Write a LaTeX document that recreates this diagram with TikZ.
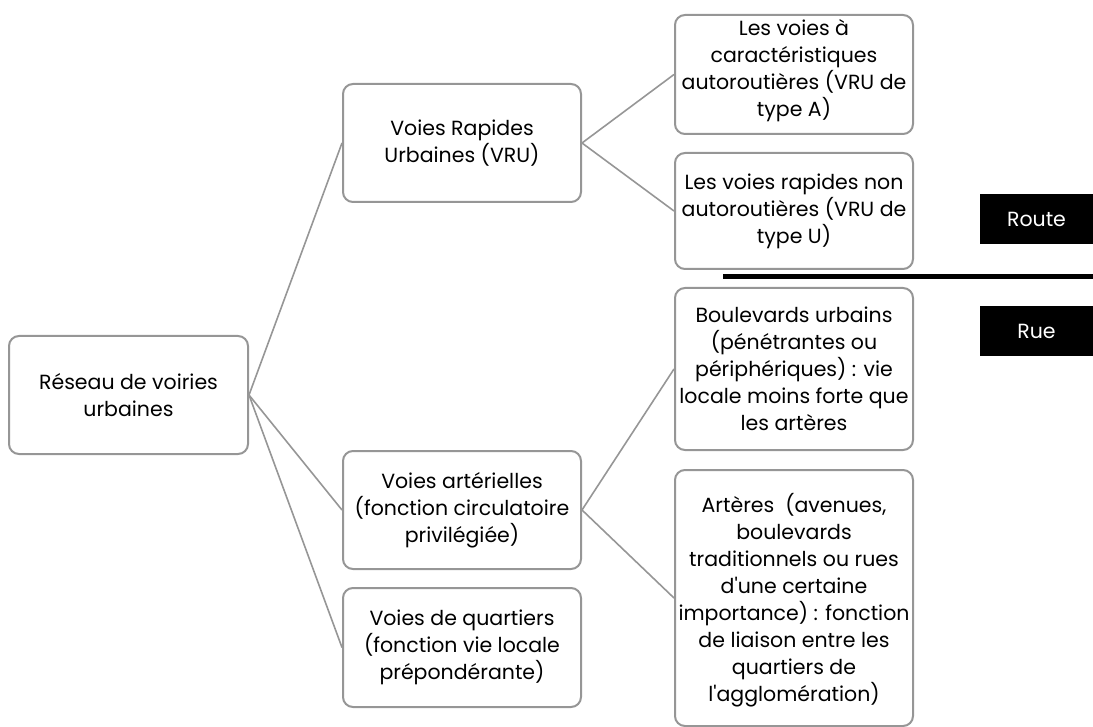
\documentclass[tikz,border=0pt]{standalone}
\usepackage{fontspec}
\setmainfont{Poppins}[Ligatures=TeXOff]
\definecolor{boxgray}{RGB}{150,150,150}
\definecolor{linegray}{RGB}{150,150,150}
\tikzset{
  box/.style={draw=boxgray, line width=2pt, rounded corners=10pt, rectangle, inner sep=0pt, fill=white},
  txt/.style={align=center, inner sep=0pt, font=\fontsize{20.5}{27}\selectfont, text=black},
  conn/.style={draw=linegray, line width=1.6pt},
  tag/.style={fill=black, text=white, inner sep=0pt, font=\fontsize{20.5}{27}\selectfont},
}
\begin{document}
\begin{tikzpicture}[x=1pt,y=-1pt]
\useasboundingbox (0,0) rectangle (1093,727);
% boxes
\node[box, minimum width=239pt, minimum height=118pt] (root) at (128.5,395) {};
\node[box, minimum width=238pt, minimum height=118pt] (vru) at (462,143) {};
\node[box, minimum width=238pt, minimum height=118pt] (art) at (462,510) {};
\node[box, minimum width=238pt, minimum height=119pt] (qua) at (462,647.5) {};
\node[box, minimum width=238pt, minimum height=119pt] (r1) at (794,74.5) {};
\node[box, minimum width=238pt, minimum height=116pt] (r2) at (794,211) {};
\node[box, minimum width=238pt, minimum height=162pt] (r3) at (794,369) {};
\node[box, minimum width=238pt, minimum height=256pt] (r4) at (794,598) {};
% connectors
\draw[conn] (root.east) -- (vru.west);
\draw[conn] (root.east) -- (art.west);
\draw[conn] (root.east) -- (qua.west);
\draw[conn] (vru.east) -- (r1.west);
\draw[conn] (vru.east) -- (r2.west);
\draw[conn] (art.east) -- (r3.west);
\draw[conn] (art.east) -- (r4.west);
% texts
\node[txt] at (root.center) {Réseau de voiries\\urbaines};
\node[txt] at (vru.center) {Voies Rapides\\Urbaines (VRU)};
\node[txt] at (art.center) {Voies artérielles\\(fonction circulatoire\\privilégiée)};
\node[txt] at (qua.center) {Voies de quartiers\\(fonction vie locale\\prépondérante)};
\node[txt] at ([yshift=4pt]r1.center) {Les voies à\\caractéristiques\\autoroutières (VRU de\\type A)};
\node[txt] at (r2.center) {Les voies rapides non\\autoroutières (VRU de\\type U)};
\node[txt] at (r3.center) {Boulevards urbains\\(pénétrantes ou\\périphériques) : vie\\locale moins forte que\\les artères};
\node[txt] at ([yshift=-2pt]r4.center) {Artères~ (avenues,\\boulevards\\traditionnels ou rues\\d'une certaine\\importance) : fonction\\de liaison entre les\\quartiers de\\l'agglomération)};
% route / rue
\node[tag, minimum width=113pt, minimum height=50pt] (route) at (1036.5,219) {Route};
\node[tag, minimum width=113pt, minimum height=50pt] (rue) at (1036.5,331) {Rue};
\coordinate (sepL) at (723,277);
\coordinate (sepR) at (1093,277);
\draw[line width=5pt, black] (sepL) -- (sepR);
\end{tikzpicture}
\end{document}
